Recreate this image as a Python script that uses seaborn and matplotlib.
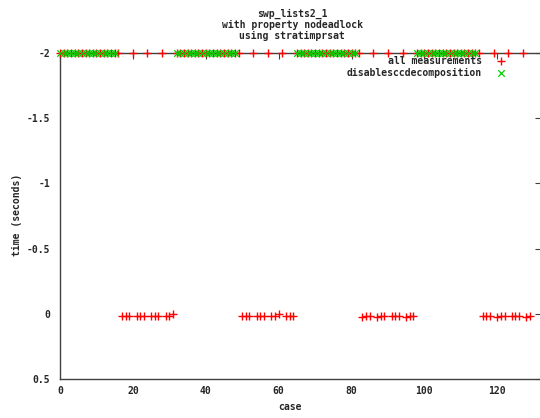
import matplotlib
matplotlib.use("Agg")
import matplotlib.pyplot as plt
import seaborn as sns
import pandas as pd

# Every case, timed-out runs recorded as -2
cases = list(range(130))
all_time = [
    # 0-31
    -2, -2, -2, -2, -2, -2, -2, -2, -2, -2, -2, -2, -2, -2, -2, -2,
    -2, 0.02, 0.02, 0.02, -2, 0.02, 0.02, 0.02, -2, 0.02, 0.015, 0.02, -2, 0.02, 0.02, 0.0,
    # 32-64
    -2, -2, -2, -2, -2, -2, -2, -2, -2, -2, -2, -2, -2, -2, -2, -2, -2,
    -2, 0.02, 0.02, 0.02, -2, 0.02, 0.02, 0.02, -2, 0.02, 0.02, 0.0, -2, 0.02, 0.02, 0.02,
    # 65-97
    -2, -2, -2, -2, -2, -2, -2, -2, -2, -2, -2, -2, -2, -2, -2, -2, -2,
    -2, 0.025, 0.02, 0.02, -2, 0.025, 0.02, 0.02, -2, 0.02, 0.02, 0.02, -2, 0.025, 0.02, 0.02,
    # 98-129
    -2, -2, -2, -2, -2, -2, -2, -2, -2, -2, -2, -2, -2, -2, -2, -2, -2,
    -2, 0.02, 0.02, 0.02, -2, 0.025, 0.02, 0.02, -2, 0.02, 0.02, 0.02, -2, 0.025, 0.02,
]

# Runs with the disablesccdecomposition option
dis_cases = [
    0, 1, 2, 3, 4, 5, 6, 7, 8, 9, 10, 11, 12, 13, 14, 15,
    32, 33, 34, 35, 36, 37, 38, 39, 40, 41, 42, 43, 44, 45, 46, 47, 48,
    65, 66, 67, 68, 69, 70, 71, 72, 73, 74, 75, 76, 77, 78, 79, 80, 81,
    98, 99, 100, 101, 102, 103, 104, 105, 106, 107, 108, 109, 110, 111, 112, 113, 114,
]
dis_time = [-2] * len(dis_cases)

y_ticks = [-2, -1.5, -1, -0.5, 0, 0.5]
y_tick_labels = ["-2", "-1.5", "-1", "-0.5", "0", "0.5"]
x_ticks = [0, 20, 40, 60, 80, 100, 120]
x_tick_labels = ["0", "20", "40", "60", "80", "100", "120"]

title_lines = ["swp_lists2_1", "with property nodeadlock", "using stratimprsat"]

sns.set_style("white")
plt.rcParams["font.family"] = ["DejaVu Sans Mono", "DejaVu Sans"]
plt.rcParams["font.weight"] = "bold"

W, H = 540, 418
fig = plt.figure(figsize=(W / 100, H / 100), dpi=100)
left, right, top, bottom = 60, 541, 53, 379
ax = fig.add_axes([left / W, 1 - bottom / H, (right - left) / W, (bottom - top) / H])

df_all = pd.DataFrame({"case": cases, "time": all_time})
df_dis = pd.DataFrame({"case": dis_cases, "time": dis_time})

sns.scatterplot(data=df_all, x="case", y="time", marker="+", color="#ff0000",
                s=40, linewidth=1.0, ax=ax, label="all measurements", zorder=3,
                clip_on=False)
sns.scatterplot(data=df_dis, x="case", y="time", marker="x", color="#00d000",
                s=22, linewidth=0.9, ax=ax, label="disablesccdecomposition", zorder=4,
                clip_on=False)

ax.set_xlim(0, 132)
ax.set_ylim(0.5, -2)
ax.set_xticks(x_ticks)
ax.set_xticklabels(x_tick_labels)
ax.set_yticks(y_ticks)
ax.set_yticklabels(y_tick_labels)
ax.set_xlabel("")
ax.set_ylabel("")

for s in ax.spines.values():
    s.set_color("#404040")
    s.set_linewidth(1.0)
    s.set_zorder(2)

ax.tick_params(axis="both", which="major", direction="in", length=4, width=0.8,
               color="#404040", labelsize=7, top=True, right=True)
ax.tick_params(axis="y", pad=7)
ax.tick_params(axis="x", pad=5)
for t in ax.get_xticklabels() + ax.get_yticklabels():
    t.set_fontweight("bold")

leg = ax.legend(loc="upper right", bbox_to_anchor=(506 / W, 1 - 56 / H),
                bbox_transform=fig.transFigure, frameon=False, markerfirst=False,
                fontsize=7, handlelength=1.0, handletextpad=1.5, labelspacing=0.2,
                borderpad=0, borderaxespad=0, prop={"weight": "bold", "size": 7})

for i, line in enumerate(title_lines):
    fig.text(292 / W, 1 - (14 + 11 * i) / H, line, ha="center", va="center",
             fontsize=7, fontweight="bold")

fig.text(290 / W, 1 - 407 / H, "case", ha="center", va="center",
         fontsize=7, fontweight="bold")
fig.text(17 / W, 1 - 215 / H, "time (seconds)", ha="center", va="center",
         rotation=90, fontsize=7, fontweight="bold")

fig.savefig("out.png", dpi=100)
